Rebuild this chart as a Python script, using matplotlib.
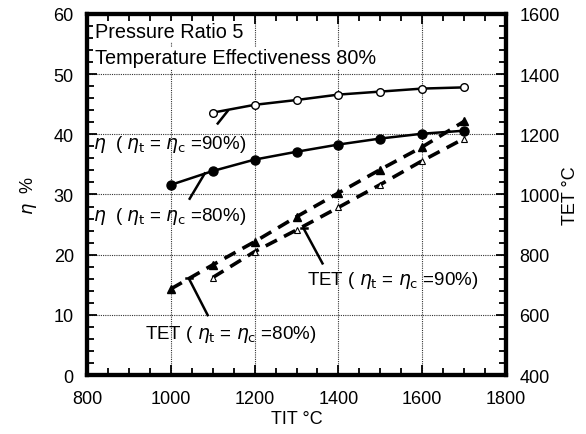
import matplotlib
matplotlib.use("Agg")
import matplotlib.pyplot as plt
from matplotlib.ticker import MultipleLocator

plt.rcParams['font.family'] = ['Liberation Sans', 'DejaVu Sans']
plt.rcParams['mathtext.fontset'] = 'dejavusans'

# data
tit_eta90 = [1100, 1200, 1300, 1400, 1500, 1600, 1700]
eta90 = [43.6, 44.9, 45.7, 46.6, 47.1, 47.6, 47.8]
tit_eta80 = [1000, 1100, 1200, 1300, 1400, 1500, 1600, 1700]
eta80 = [31.6, 33.9, 35.8, 37.1, 38.3, 39.3, 40.1, 40.6]
tit_tet80 = [1000, 1100, 1200, 1300, 1400, 1500, 1600, 1700]
tet80 = [686, 766, 843, 926, 1005, 1083, 1158, 1243]
tit_tet90 = [1100, 1200, 1300, 1400, 1500, 1600, 1700]
tet90 = [724, 810, 882, 957, 1033, 1112, 1186]

fig = plt.figure(figsize=(5.86, 4.35), dpi=100)
ax = fig.add_axes([0.1485, 0.1356, 0.715, 0.83])
ax.set_xlim(800, 1800)
ax.set_ylim(0, 60)
ax2 = ax.twinx()
ax2.set_ylim(400, 1600)

fs = 13
afs = 13.5
ax.xaxis.set_major_locator(MultipleLocator(200))
ax.xaxis.set_minor_locator(MultipleLocator(50))
ax.yaxis.set_major_locator(MultipleLocator(10))
ax.yaxis.set_minor_locator(MultipleLocator(2))
ax2.yaxis.set_major_locator(MultipleLocator(200))
ax2.yaxis.set_minor_locator(MultipleLocator(40))

ax.tick_params(which='both', direction='in', top=True, right=False, width=1.3, labelsize=fs)
ax.tick_params(which='major', length=7)
ax.tick_params(which='minor', length=5)
ax.tick_params(axis='x', which='both', pad=10.5)
ax.tick_params(axis='y', which='both', pad=9.5)
ax2.tick_params(which='both', direction='in', width=1.3, labelsize=fs, pad=9.5)
ax2.tick_params(which='major', length=7)
ax2.tick_params(which='minor', length=5)

for a in (ax, ax2):
    for s in a.spines.values():
        s.set_linewidth(3)

ax.grid(True, which='major', linestyle=(0, (1, 1)), color='black', linewidth=0.8, alpha=0.8)
ax.set_axisbelow(True)

ax.plot(tit_eta90, eta90, '-o', color='black', lw=1.8, ms=5.5, mfc='white', mec='black', mew=1.0, zorder=3)
ax.plot(tit_eta80, eta80, '-o', color='black', lw=1.8, ms=6.5, mfc='black', zorder=3)
ax2.plot(tit_tet80, tet80, linestyle=(0, (3.5, 2.2)), marker='^', color='black', lw=2.6, ms=5.5, mfc='black', zorder=3)
ax2.plot(tit_tet90, tet90, linestyle=(0, (3.5, 2.2)), marker='^', color='black', lw=2.6, ms=5, mfc='white', mec='black', mew=0.8, zorder=3)

# leader lines
ax.plot([1112, 1136], [41.8, 43.9], color='black', lw=1.8)
ax.plot([1045, 1081], [29.3, 33.5], color='black', lw=1.8)
ax2.plot([1088, 1043], [599, 721], color='black', lw=1.8)
ax2.plot([1036, 1050], [721, 721], color='black', lw=1.8)
ax2.plot([1362, 1317], [771, 887], color='black', lw=1.8)
ax2.plot([1310, 1324], [887, 887], color='black', lw=1.8)

lab90 = r"$\eta$  ( $\eta_{\mathrm{t}}$ = $\eta_{\mathrm{c}}$ =90%)"
lab80 = r"$\eta$  ( $\eta_{\mathrm{t}}$ = $\eta_{\mathrm{c}}$ =80%)"
ax.text(814, 37.8, lab90, fontsize=afs, va='baseline', ha='left', zorder=4)
ax.text(814, 25.7, lab80, fontsize=afs, va='baseline', ha='left', zorder=4)
ax2.text(1324, 702, r"TET ( $\eta_{\mathrm{t}}$ = $\eta_{\mathrm{c}}$ =90%)", fontsize=afs, va='baseline', ha='left', zorder=4)
ax2.text(938, 523, r"TET ( $\eta_{\mathrm{t}}$ = $\eta_{\mathrm{c}}$ =80%)", fontsize=afs, va='baseline', ha='left', zorder=4)

bb = dict(facecolor='white', edgecolor='none', pad=1)
ax.text(0.018, 0.978, "Pressure Ratio 5", transform=ax.transAxes, fontsize=14.3,
        va='top', ha='left', bbox=bb, zorder=5)
ax.text(0.018, 0.905, "Temperature Effectiveness 80%", transform=ax.transAxes, fontsize=14.3,
        va='top', ha='left', bbox=bb, zorder=5)

ax.set_xlabel("TIT °C", fontsize=fs)
ax.xaxis.set_label_coords(0.5, -0.097)
ax.set_ylabel(r"$\eta$  %", fontsize=fs)
ax.yaxis.set_label_coords(-0.115, 0.5)
ax2.set_ylabel("TET °C", fontsize=fs)
ax2.yaxis.set_label_coords(1.134, 0.5)

fig.savefig("out.png", dpi=100)
